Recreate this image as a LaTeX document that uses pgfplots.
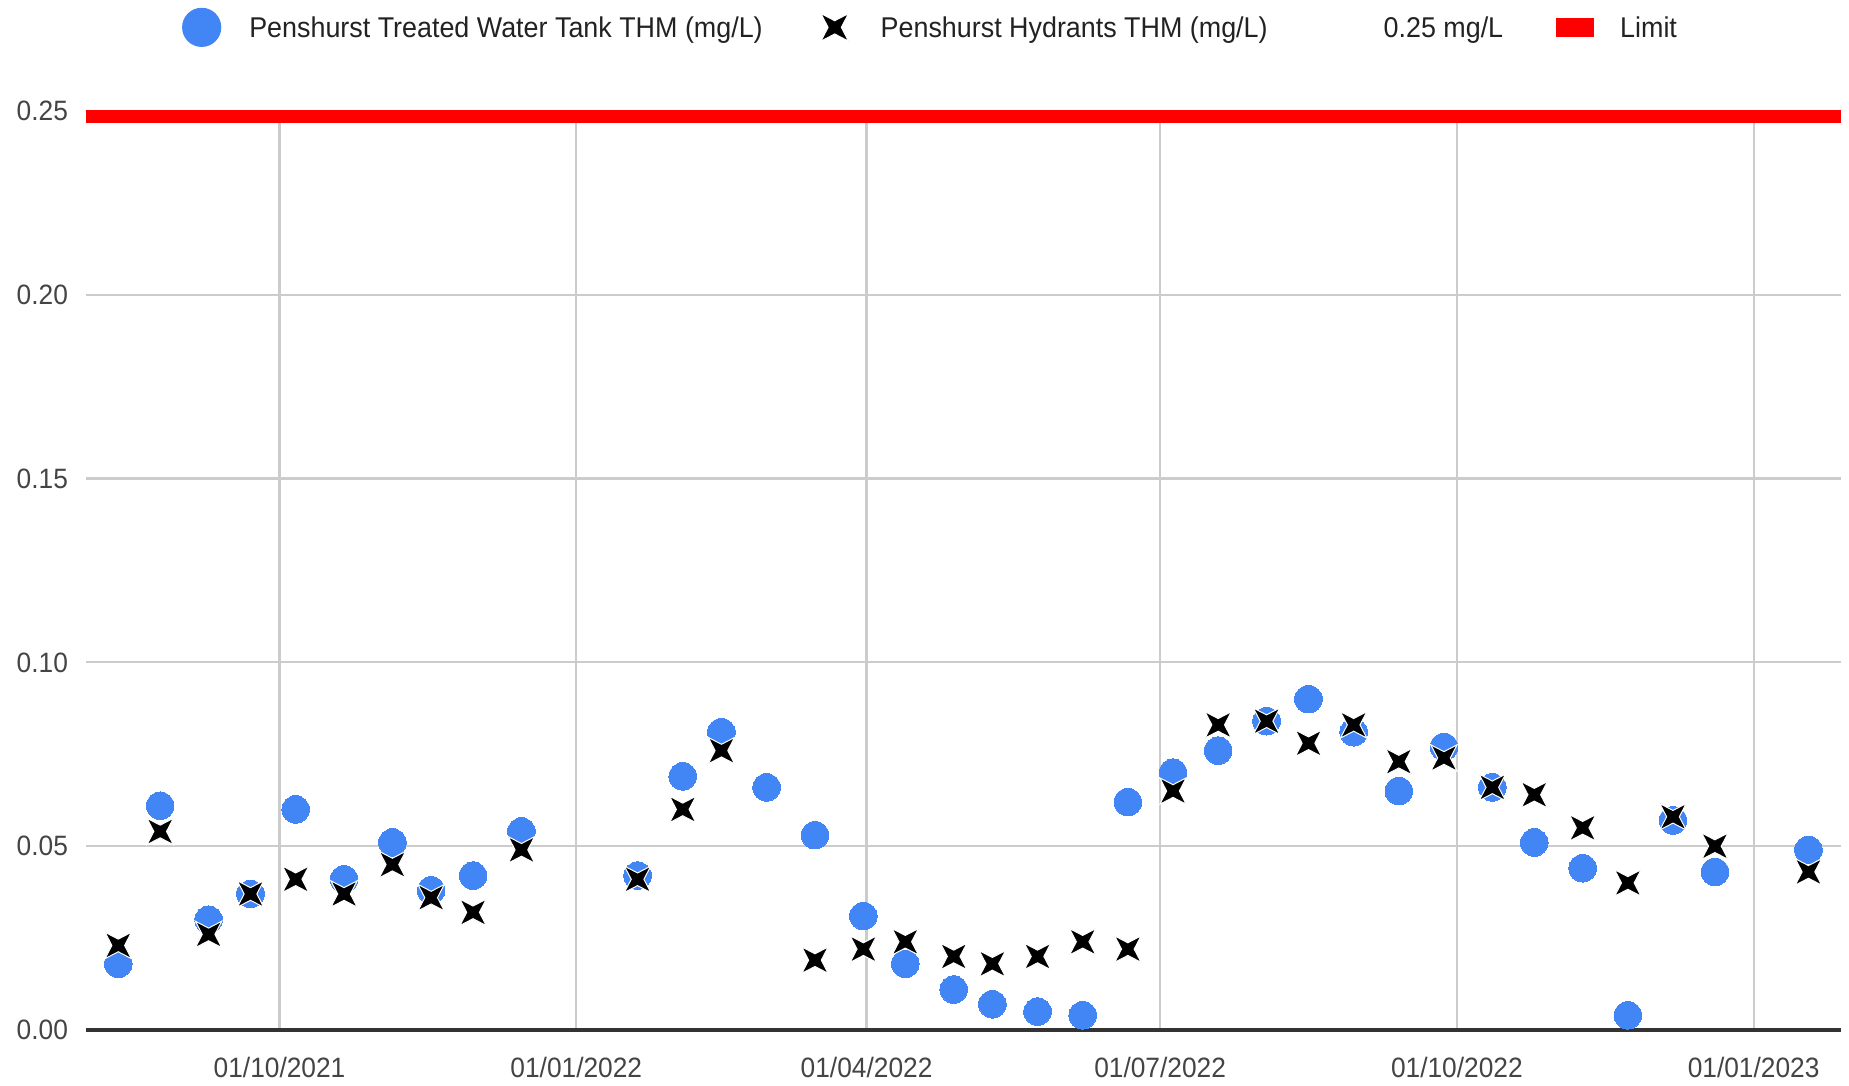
\documentclass[border=0pt]{standalone}
\usepackage{pgfplots}
\pgfplotsset{compat=1.18}
\usepackage{fontspec}
\setmainfont[FakeStretch=0.94]{Liberation Sans}
\definecolor{gblue}{HTML}{4285F4}
\definecolor{gridc}{HTML}{CCCCCC}
\definecolor{tickc}{HTML}{444444}
\definecolor{legc}{HTML}{222222}
\pgfdeclareplotmark{gx}{%
  \pgfpathmoveto{\pgfqpoint{\pgfplotmarksize}{\pgfplotmarksize}}%
  \pgfpathlineto{\pgfqpoint{0pt}{0.48\pgfplotmarksize}}%
  \pgfpathlineto{\pgfqpoint{-\pgfplotmarksize}{\pgfplotmarksize}}%
  \pgfpathlineto{\pgfqpoint{-0.48\pgfplotmarksize}{0pt}}%
  \pgfpathlineto{\pgfqpoint{-\pgfplotmarksize}{-\pgfplotmarksize}}%
  \pgfpathlineto{\pgfqpoint{0pt}{-0.48\pgfplotmarksize}}%
  \pgfpathlineto{\pgfqpoint{\pgfplotmarksize}{-\pgfplotmarksize}}%
  \pgfpathlineto{\pgfqpoint{0.48\pgfplotmarksize}{0pt}}%
  \pgfpathclose
  \pgfusepathqfillstroke
}
\pgfplotstableread{
d v
-50 0.018
-37 0.061
-22 0.030
-9 0.037
5 0.060
20 0.041
35 0.051
47 0.038
60 0.042
75 0.054
111 0.042
125 0.069
137 0.081
151 0.066
166 0.053
181 0.031
194 0.018
209 0.011
221 0.007
235 0.005
249 0.004
263 0.062
277 0.070
291 0.076
306 0.084
319 0.090
333 0.081
347 0.065
361 0.077
376 0.066
389 0.051
404 0.044
418 0.004
432 0.057
445 0.043
474 0.049
}\tank
\pgfplotstableread{
d v
-50 0.023
-37 0.054
-22 0.026
-9 0.037
5 0.041
20 0.037
35 0.045
47 0.036
60 0.032
75 0.049
111 0.041
125 0.060
137 0.076
166 0.019
181 0.022
194 0.024
209 0.020
221 0.018
235 0.020
249 0.024
263 0.022
277 0.065
291 0.083
306 0.084
319 0.078
333 0.083
347 0.073
361 0.074
376 0.066
389 0.064
404 0.055
418 0.040
432 0.058
445 0.050
474 0.043
}\hydr
\begin{document}
\begin{tikzpicture}
\begin{axis}[
  at={(0pt,0pt)}, anchor=south west,
  scale only axis,
  width=877.35pt, height=459.5pt,
  xmin=-60, xmax=484,
  ymin=0, ymax=0.25,
  clip=false,
  axis x line=bottom, axis y line=left,
  x axis line style={draw=black!80, line width=1.6pt, -},
  y axis line style={draw=none},
  major tick length=0pt,
  tick style={draw=none},
  xtick={0,92,182,273,365,457},
  xticklabels={01/10/2021,01/01/2022,01/04/2022,01/07/2022,01/10/2022,01/01/2023},
  ytick={0,0.05,0.10,0.15,0.20,0.25},
  /pgf/number format/fixed, /pgf/number format/fixed zerofill,
  /pgf/number format/precision=2, /pgf/number format/assume math mode=true,
  yticklabel style={inner sep=0pt, xshift=-8.85pt, anchor=east},
  xticklabel style={inner sep=0pt, yshift=-13.3pt, anchor=north},
  ticklabel style={font=\fontsize{14pt}{16pt}\selectfont, text=tickc},
  grid=major,
  major grid style={draw=gridc, line width=1.1pt},
  legend columns=-1,
  legend style={
    at={(axis description cs:0.05477,1.091)}, anchor=west,
    draw=none, fill=none, inner sep=0pt, outer sep=0pt,
    font=\fontsize{14.3pt}{16pt}\selectfont, text=legc,
    nodes={inner sep=0pt, anchor=base west},
    /tikz/every even column/.append style={column sep=0pt},
    /tikz/every odd column/.append style={column sep=0pt},
  },
]
\addplot[only marks, mark=*, mark size=6.9pt, mark options={fill=gblue, draw=gblue, line width=0pt},
  legend image code/.code={\fill[gblue, draw=none] (0pt,5.2pt) circle (9.8pt);\path[draw=none, fill=none] (-9.8pt,0pt) rectangle (23.8pt,1pt);}]
  table[x=d,y=v] {\tank};
\addlegendentry{Penshurst Treated Water Tank THM (mg/L)}
\addplot[only marks, mark=gx, mark size=6.6pt, mark options={fill=black, draw=white, line width=0.5pt},
  legend image code/.code={\path[draw=none, fill=none] (-36pt,0pt) rectangle (23pt,1pt);\begin{scope}[shift={(0pt,5.2pt)}]\pgfsetlinewidth{0.5pt}\pgfsetfillcolor{black}\pgfsetstrokecolor{white}\pgfplotmarksize=6.9pt\relax\pgfuseplotmark{gx}\end{scope}}]
  table[x=d,y=v] {\hydr};
\addlegendentry{Penshurst Hydrants THM (mg/L)}
\addlegendimage{legend image code/.code={\path[draw=none, fill=none] (0pt,0pt) rectangle (58pt,1pt);}}
\addlegendentry{0.25 mg/L}
\addplot[draw=red, line width=6.5pt, yshift=-2.9pt, forget plot] coordinates {(-60,0.25) (484,0.25)};
\addlegendimage{legend image code/.code={\path[draw=none, fill=none] (0pt,0pt) rectangle (58.5pt,1pt);\fill[red, draw=none] (26.5pt,0.4pt) rectangle (45.5pt,10pt);}}
\addlegendentry{Limit}
\end{axis}
\pgfresetboundingbox
\path[use as bounding box] (-43pt,-28pt) rectangle (881.5pt,515pt);
\end{tikzpicture}
\end{document}
